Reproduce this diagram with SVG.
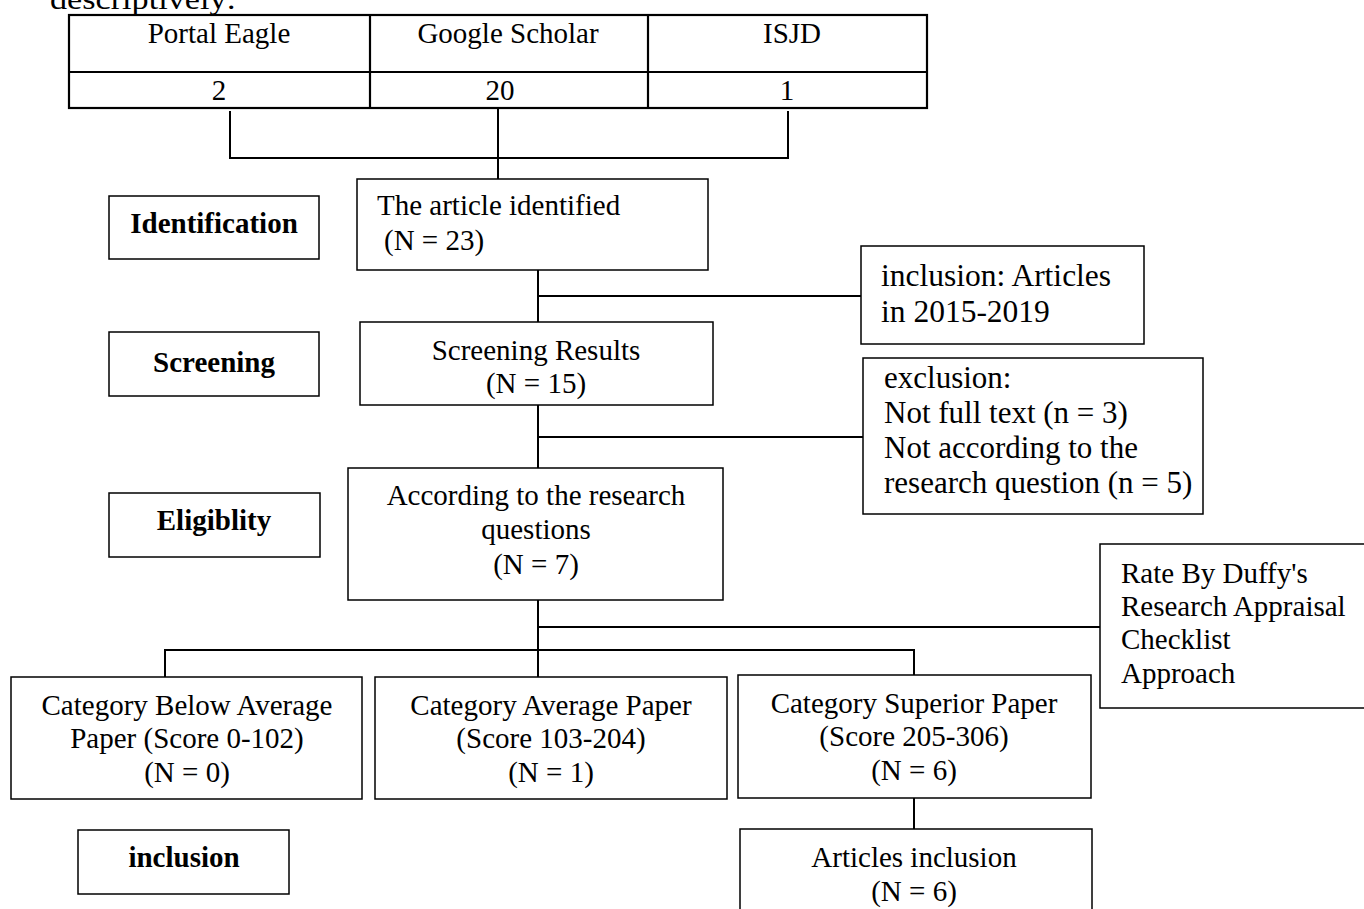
<svg xmlns="http://www.w3.org/2000/svg" width="1364" height="909" viewBox="0 0 1364 909">
<style>
.box{fill:#fff;stroke:#000;stroke-width:1.5}
.tbl{fill:none;stroke:#000;stroke-width:2.2}
.ln{fill:none;stroke:#000;stroke-width:2}
text{font-family:"Liberation Serif","Times New Roman",serif;fill:#000;font-size:29px}
.c{text-anchor:middle}
.b{font-weight:bold}
.lg{font-size:31.5px}
.md{font-size:31px}
</style>
<rect width="1364" height="909" fill="#fff"/>
<text x="50" y="9" textLength="186" lengthAdjust="spacingAndGlyphs">descriptively:</text>
<g id="table">
<rect class="tbl" x="69" y="15" width="858" height="93"/>
<line class="tbl" x1="69" y1="72" x2="927" y2="72"/>
<line class="tbl" x1="370" y1="15" x2="370" y2="108"/>
<line class="tbl" x1="648" y1="15" x2="648" y2="108"/>
<text class="c" x="219" y="43">Portal Eagle</text>
<text class="c" x="508" y="43">Google Scholar</text>
<text class="c" x="792" y="43">ISJD</text>
<text class="c" x="219" y="100">2</text>
<text class="c" x="500" y="100">20</text>
<text class="c" x="787" y="100">1</text>
</g>
<g id="connectors">
<path class="ln" d="M230 111 V158 H788 V111"/>
<path class="ln" d="M498 108 V179"/>
<path class="ln" d="M538 270 V322"/>
<path class="ln" d="M538 296 H861"/>
<path class="ln" d="M538 405 V468"/>
<path class="ln" d="M538 437 H863"/>
<path class="ln" d="M538 600 V677"/>
<path class="ln" d="M538 627 H1100"/>
<path class="ln" d="M165 677 V650 H914 V675"/>
<path class="ln" d="M914 798 V829"/>
</g>
<g id="identification">
<rect class="box" x="109" y="196" width="210" height="63"/>
<text class="c b" x="214" y="233">Identification</text>
</g>
<g id="article-identified">
<rect class="box" x="357" y="179" width="351" height="91"/>
<text x="377" y="215">The article identified</text>
<text x="384" y="250">(N = 23)</text>
</g>
<g id="inclusion-criteria">
<rect class="box" x="861" y="246" width="283" height="98"/>
<text class="lg" x="881" y="286">inclusion: Articles</text>
<text class="lg" x="881" y="322">in 2015-2019</text>
</g>
<g id="screening">
<rect class="box" x="109" y="332" width="210" height="64"/>
<text class="c b" x="214" y="372">Screening</text>
</g>
<g id="screening-results">
<rect class="box" x="360" y="322" width="353" height="83"/>
<text class="c" x="536" y="360">Screening Results</text>
<text class="c" x="536" y="393">(N = 15)</text>
</g>
<g id="exclusion">
<rect class="box" x="863" y="358" width="340" height="156"/>
<text class="md" x="884" y="388">exclusion:</text>
<text class="md" x="884" y="423">Not full text (n = 3)</text>
<text class="md" x="884" y="458">Not according to the</text>
<text class="md" x="884" y="493">research question (n = 5)</text>
</g>
<g id="eligibility">
<rect class="box" x="109" y="493" width="211" height="64"/>
<text class="c b" x="214" y="530">Eligiblity</text>
</g>
<g id="research-questions">
<rect class="box" x="348" y="468" width="375" height="132"/>
<text class="c" x="536" y="505">According to the research</text>
<text class="c" x="536" y="539">questions</text>
<text class="c" x="536" y="574">(N = 7)</text>
</g>
<g id="duffy">
<rect class="box" x="1100" y="544" width="280" height="164"/>
<text x="1121" y="583">Rate By Duffy's</text>
<text x="1121" y="616">Research Appraisal</text>
<text x="1121" y="649">Checklist</text>
<text x="1121" y="683">Approach</text>
</g>
<g id="below-average">
<rect class="box" x="11" y="677" width="351" height="122"/>
<text class="c" x="187" y="715">Category Below Average</text>
<text class="c" x="187" y="748">Paper (Score 0-102)</text>
<text class="c" x="187" y="782">(N = 0)</text>
</g>
<g id="average">
<rect class="box" x="375" y="677" width="352" height="122"/>
<text class="c" x="551" y="715">Category Average Paper</text>
<text class="c" x="551" y="748">(Score 103-204)</text>
<text class="c" x="551" y="782">(N = 1)</text>
</g>
<g id="superior">
<rect class="box" x="738" y="675" width="353" height="123"/>
<text class="c" x="914" y="713">Category Superior Paper</text>
<text class="c" x="914" y="746">(Score 205-306)</text>
<text class="c" x="914" y="780">(N = 6)</text>
</g>
<g id="inclusion-label">
<rect class="box" x="78" y="830" width="211" height="64"/>
<text class="c b" x="184" y="867">inclusion</text>
</g>
<g id="articles-inclusion">
<rect class="box" x="740" y="829" width="352" height="100"/>
<text class="c" x="914" y="867">Articles inclusion</text>
<text class="c" x="914" y="901">(N = 6)</text>
</g>
</svg>
